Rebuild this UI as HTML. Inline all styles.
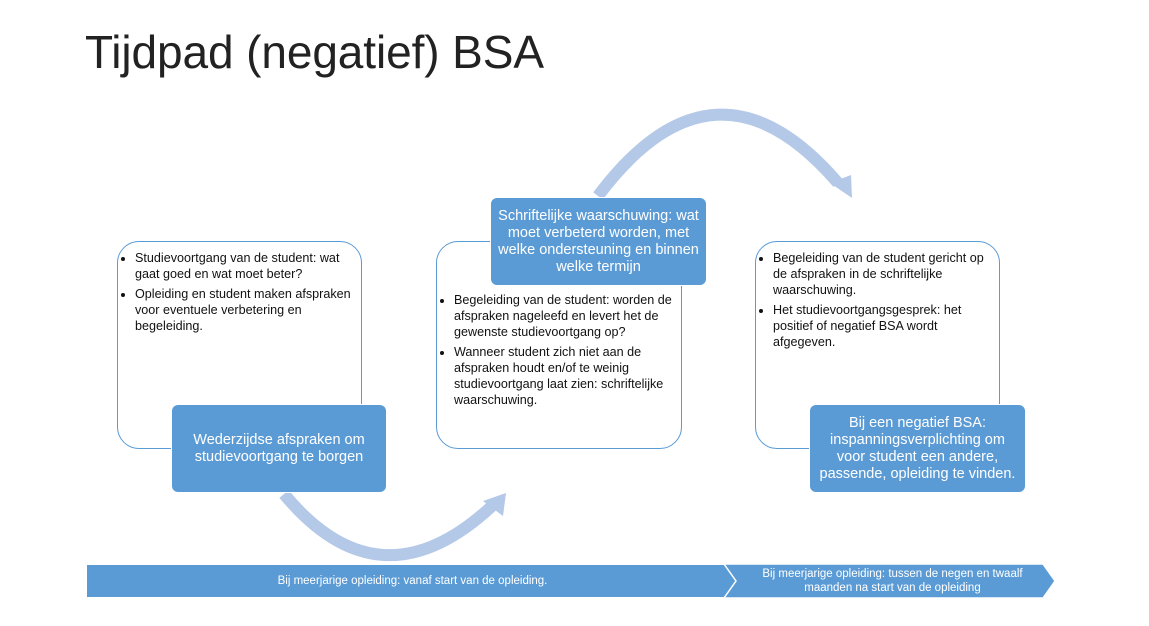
<!DOCTYPE html>
<html><head><meta charset="utf-8"><style>
body{margin:0;width:1149px;height:626px;background:#fff;position:relative;overflow:hidden;font-family:"Liberation Sans",Carlito,sans-serif}
.t{position:absolute;left:85px;top:25px;font-size:46px;color:#222;font-weight:300;letter-spacing:-0.1px}
.o{position:absolute;border:1.6px solid #5b9bd5;border-radius:22px;background:#fff;box-sizing:border-box}
.o ul{margin:8px 4px 0 0;padding-left:17px;font-size:12.6px;line-height:16px;color:#111}
.o li{margin-bottom:4px}
.b{position:absolute;background:#5b9bd5;border:1.5px solid #fff;border-radius:7px;color:#fff;font-size:14.5px;line-height:17px;text-align:center;display:flex;align-items:center;justify-content:center;box-sizing:border-box;padding:0 6px}
.bar{position:absolute;color:#fff;font-size:11.5px;text-align:center;line-height:14px;display:flex;align-items:center;justify-content:center}
svg{position:absolute;left:0;top:0}
</style></head><body>
<div class="t">Tijdpad (negatief) BSA</div>
<svg width="1149" height="626">
<path d="M284 494 Q380 610 492 506" fill="none" stroke="#b4c8e8" stroke-width="12"/>
<polygon points="506,493 483,501 503,516" fill="#b4c8e8"/>
<path d="M598 196 Q715 40 838 183" fill="none" stroke="#b4c8e8" stroke-width="12"/>
<polygon points="852,198 830,183 851,175" fill="#b4c8e8"/>
<polygon points="87,565 728,565 738,581 728,597 87,597" fill="#5b9bd5"/>
<polygon points="724,564 1043,564 1055,581 1043,598 724,598 736,581" fill="#5b9bd5" stroke="#fff" stroke-width="1.5"/>
</svg>
<div class="o" style="left:117px;top:241px;width:245px;height:208px"><ul><li>Studievoortgang van de student: wat gaat goed en wat moet beter?</li><li>Opleiding en student maken afspraken voor eventuele verbetering en begeleiding.</li></ul></div>
<div class="b" style="left:171px;top:404px;width:216px;height:89px">Wederzijdse afspraken om studievoortgang te borgen</div>
<div class="o" style="left:436px;top:241px;width:246px;height:208px"><ul style="margin-top:50px"><li>Begeleiding van de student: worden de afspraken nageleefd en levert het de gewenste studievoortgang op?</li><li>Wanneer student zich niet aan de afspraken houdt en/of te weinig studievoortgang laat zien: schriftelijke waarschuwing.</li></ul></div>
<div class="b" style="left:490px;top:197px;width:217px;height:89px">Schriftelijke waarschuwing: wat moet verbeterd worden, met welke ondersteuning en binnen welke termijn</div>
<div class="o" style="left:755px;top:241px;width:245px;height:208px"><ul><li>Begeleiding van de student gericht op de afspraken in de schriftelijke waarschuwing.</li><li>Het studievoortgangsgesprek: het positief of negatief BSA wordt afgegeven.</li></ul></div>
<div class="b" style="left:809px;top:404px;width:217px;height:89px">Bij een negatief BSA: inspanningsverplichting om voor student een andere, passende, opleiding te vinden.</div>
<div class="bar" style="left:87px;top:565px;width:651px;height:32px">Bij meerjarige opleiding: vanaf start van de opleiding.</div>
<div class="bar" style="left:740px;top:564px;width:305px;height:34px">Bij meerjarige opleiding: tussen de negen en twaalf maanden na start van de opleiding</div>
</body></html>
